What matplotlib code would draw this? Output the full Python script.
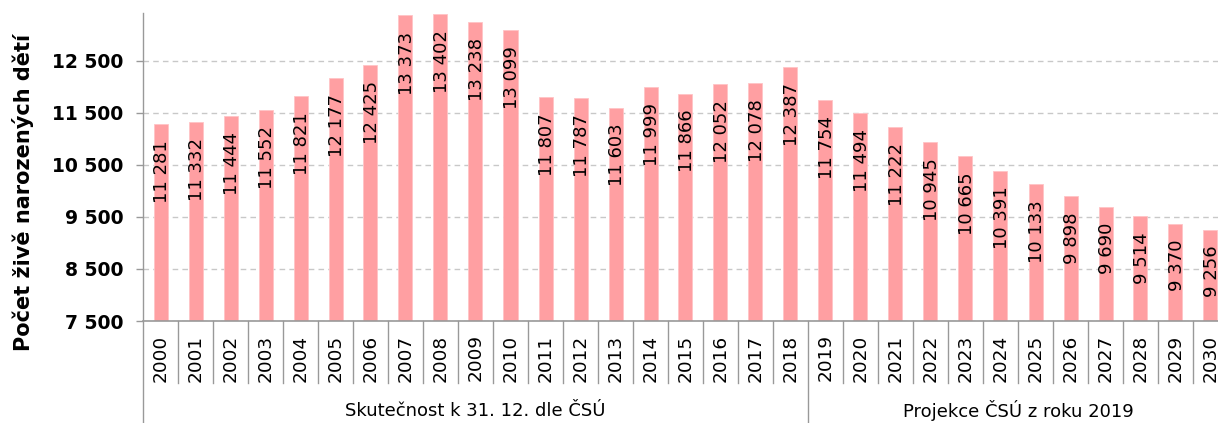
import matplotlib
matplotlib.use("Agg")
import matplotlib.pyplot as plt

years = [str(y) for y in range(2000, 2031)]
births = [11281, 11332, 11444, 11552, 11821, 12177, 12425, 13373, 13402, 13238,
          13099, 11807, 11787, 11603, 11999, 11866, 12052, 12078, 12387, 11754,
          11494, 11222, 10945, 10665, 10391, 10133, 9898, 9690, 9514, 9370, 9256]
groups = ["Skutečnost k 31. 12. dle ČSÚ", "Projekce ČSÚ z roku 2019"]
group_sizes = [19, 12]
yticks = [7500, 8500, 9500, 10500, 11500, 12500]
ylabel = "Počet živě narozených dětí"

def fmt(v):
    return f"{v:,}".replace(",", " ")

plt.rcParams['font.family'] = ['DejaVu Sans']
W, H = 1218, 423
fig = plt.figure(figsize=(W / 100, H / 100), dpi=100)
ax = fig.add_axes([143 / W, 102 / H, 1085 / W, 308 / H])

x = list(range(len(years)))
ax.bar(x, births, width=0.4, color='#FF9FA2', edgecolor='#FFC4C6', linewidth=0.6, zorder=2)
ax.set_xlim(-0.5, len(years) - 0.5)
ax.set_ylim(7500, 13420)

for xi, v in zip(x, births):
    ax.annotate(fmt(v), (xi, v), xytext=(1.5, -16), textcoords='offset pixels',
                rotation=90, ha='center', va='top', fontsize=13, color='black', zorder=3)

ax.set_yticks(yticks)
ax.set_yticklabels([fmt(t) for t in yticks], fontweight='bold', fontsize=13.5)
ax.tick_params(axis='y', length=5, width=1, color='#999999', pad=9)
ax.set_xticks([])
ax.yaxis.grid(True, linestyle=(0, (4, 3)), color='#C8C8C8', linewidth=1, zorder=0)
ax.set_axisbelow(True)
for s in ['top', 'right', 'left']:
    ax.spines[s].set_visible(False)
ax.spines['bottom'].set_color('#999999')
ax.spines['bottom'].set_linewidth(1.2)

trans = ax.get_xaxis_transform()
line_kw = dict(color='#999999', linewidth=1, clip_on=False, transform=trans)
# left spine extended to figure bottom
ax.plot([-0.5, -0.5], [1.0, -0.34], **line_kw)
# separators between years
for i in range(1, len(years)):
    b = i - 0.5
    bot = -0.34 if i == group_sizes[0] else -0.201
    ax.plot([b, b], [0, bot], **line_kw)

for xi, yl in zip(x, years):
    ax.text(xi, -0.12, yl, rotation=90, ha='center', va='center', fontsize=13.3,
            transform=trans, clip_on=False)

start = 0
for g, n in zip(groups, group_sizes):
    c = start + n / 2 - 0.5
    ax.text(c, -0.292, g, ha='center', va='center', fontsize=13, transform=trans, clip_on=False)
    start += n

fig.text(0.019, 0.546, ylabel, rotation=90, ha='center', va='center',
         fontsize=15, fontweight='bold')

fig.savefig('out.png', dpi=100)
